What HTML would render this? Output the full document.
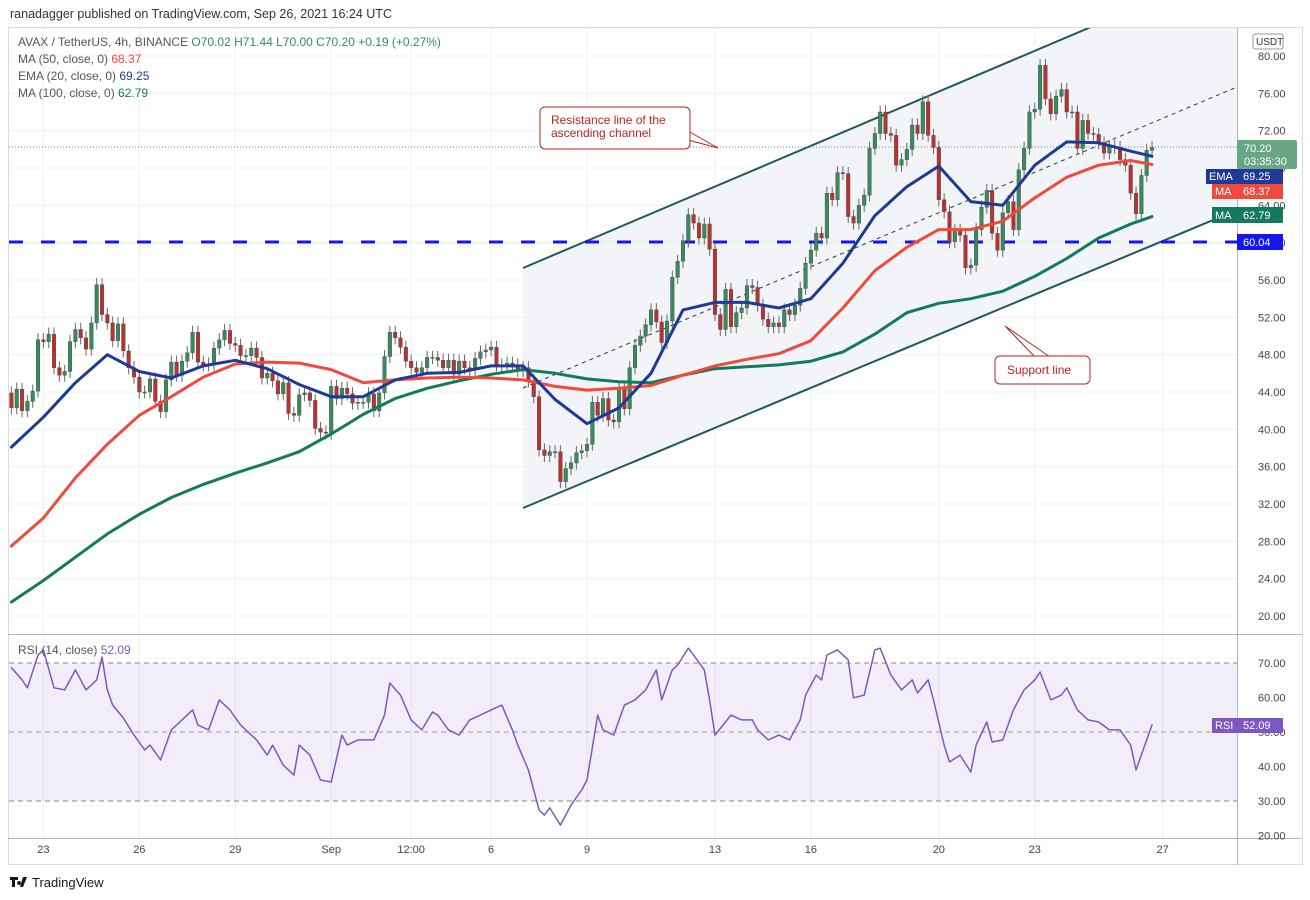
<!DOCTYPE html>
<html><head><meta charset="utf-8"><style>
html,body{margin:0;padding:0;background:#fff;width:1310px;height:900px;overflow:hidden}
svg{display:block;font-family:"Liberation Sans",sans-serif}
</style></head><body>
<svg id="chart" width="1310" height="900" viewBox="0 0 1310 900" xmlns="http://www.w3.org/2000/svg">
<text x="10" y="18" font-size="12.5" fill="#333">ranadagger published on TradingView.com, Sep 26, 2021 16:24 UTC</text>
<rect x="8.5" y="27.5" width="1294" height="837" fill="none" stroke="#d8dbe2"/>
<g id="grid"></g>
<defs>
<clipPath id="mainClip"><rect x="9" y="28" width="1228" height="605"/></clipPath>
<clipPath id="rsiClip"><rect x="9" y="636" width="1228" height="202"/></clipPath>
</defs>
<g clip-path="url(#mainClip)">
<polygon points="523,268 1237,-35 1237,210 523,508" fill="#e9ecf1" fill-opacity="0.6"/>
<line x1="523" y1="268" x2="1237" y2="-35" stroke="#1f5a5a" stroke-width="2"/>
<line x1="523" y1="508" x2="1237" y2="210" stroke="#1f5a5a" stroke-width="2"/>
<line x1="523" y1="388" x2="1237" y2="87" stroke="#333" stroke-width="1" stroke-dasharray="4,4"/>
<line x1="9" y1="242" x2="1237" y2="242" stroke="#1515f0" stroke-width="3" stroke-dasharray="14,18"/>
<line x1="9" y1="147" x2="1237" y2="147" stroke="#6a8a78" stroke-width="1" stroke-dasharray="1,2"/>
<g id="candles"></g>
<g id="mas"></g>
</g>
<line x1="8" y1="634.5" x2="1302" y2="634.5" stroke="#b2b5be"/>
<line x1="1237.5" y1="28" x2="1237.5" y2="865" stroke="#b2b5be"/>
<line x1="8" y1="838.5" x2="1302" y2="838.5" stroke="#b2b5be"/>
<g clip-path="url(#rsiClip)">
<rect x="9" y="663" width="1228" height="138" fill="#7e57c2" fill-opacity="0.1"/>
<line x1="9" y1="663" x2="1237" y2="663" stroke="#888" stroke-dasharray="5,4"/>
<line x1="9" y1="732" x2="1237" y2="732" stroke="#999" stroke-dasharray="5,4"/>
<line x1="9" y1="801" x2="1237" y2="801" stroke="#888" stroke-dasharray="5,4"/>
<g id="rsi"></g>
</g>
<g id="axes"></g>
<g font-size="12" fill="#555">
<text x="18" y="46">AVAX / TetherUS, 4h, BINANCE <tspan fill="#3a8a5e">O70.02  H71.44  L70.00  C70.20  +0.19 (+0.27%)</tspan></text>
<text x="18" y="63">MA (50, close, 0) <tspan fill="#f04a3d">68.37</tspan></text>
<text x="18" y="80">EMA (20, close, 0) <tspan fill="#1e3a96">69.25</tspan></text>
<text x="18" y="97">MA (100, close, 0) <tspan fill="#137a5c">62.79</tspan></text>
<text x="18" y="654">RSI (14, close) <tspan fill="#7e57c2">52.09</tspan></text>
</g>
<g>
<path d="M688,131 L718,148 L688,140" fill="#fff" stroke="#b22" stroke-width="1"/>
<rect x="540" y="107" width="150" height="42" rx="5" fill="#fff" stroke="#b22"/>
<text x="551" y="124" font-size="12" fill="#b22">Resistance line of the</text>
<text x="551" y="137" font-size="12" fill="#b22">ascending channel</text>
</g>
<g>
<path d="M1035,357 L1005,326 L1050,357" fill="#fff" stroke="#b22"/>
<rect x="995" y="356" width="95" height="28" rx="5" fill="#fff" stroke="#b22"/>
<text x="1007" y="374" font-size="12" fill="#b22">Support line</text>
</g>
<g font-size="11">
<rect x="1253" y="34" width="30" height="15" rx="2" fill="#fff" stroke="#999"/>
<text x="1256" y="45" fill="#333" font-size="10">USDT</text>
<rect x="1237" y="140" width="60" height="29" rx="2" fill="#6aa584"/>
<text x="1244" y="152" fill="#fff">70.20</text><text x="1244" y="165" fill="#fff">03:35:30</text>
<rect x="1206" y="169" width="31" height="15" fill="#1e3a96"/><text x="1209" y="180" fill="#fff">EMA</text>
<rect x="1237" y="169" width="46" height="15" fill="#1e3a96"/><text x="1243" y="180" fill="#fff">69.25</text>
<rect x="1212" y="184" width="25" height="15" fill="#f04a3d"/><text x="1215" y="195" fill="#fff">MA</text>
<rect x="1237" y="184" width="46" height="15" fill="#f04a3d"/><text x="1243" y="195" fill="#fff">68.37</text>
<rect x="1212" y="207" width="25" height="16" fill="#137a5c"/><text x="1215" y="219" fill="#fff">MA</text>
<rect x="1237" y="207" width="46" height="16" fill="#137a5c"/><text x="1243" y="219" fill="#fff">62.79</text>
<rect x="1237" y="234" width="46" height="16" fill="#1515f0"/><text x="1243" y="246" fill="#fff">60.04</text>
<rect x="1212" y="718" width="25" height="15" fill="#7e57c2"/><text x="1215" y="729" fill="#fff">RSI</text>
<rect x="1237" y="718" width="46" height="15" fill="#7e57c2"/><text x="1243" y="729" fill="#fff">52.09</text>
</g>
<g>
<path d="M10,877 h8 v3 h-3 v7 h-3 v-7 h-2 z M19,881 a2,2 0 1,0 0.1,0 z M23,877 h4 l-4,10 h-3 z" fill="#131722"/>
<text x="32" y="887" font-size="13" fill="#131722">TradingView</text>
</g>
</svg>
<script>
const closes = [42.3,44.3,42,43,44.1,49.6,49.4,50.2,46.6,45.8,46.2,49.4,50.7,49.8,48.6,51.4,55.5,52.3,51.4,49.5,51.3,48.4,46.6,45.6,44,44,45.4,43,41.9,45.3,47.2,45.8,47.3,48.2,50.4,47.2,46.9,47,48.7,49.6,50.6,49.2,49,47.9,47.9,48.7,47.7,45.5,46,45.2,43.8,45,41.7,41.5,43.7,43.9,43.1,40.1,39.7,39.6,44.6,43.3,44.4,43.8,42.8,42.9,42.9,43.8,42,43.9,47.8,50.4,49.8,48.8,47.3,46.6,46.1,46.6,47.7,47.7,47.4,46.6,47.4,45.9,47.3,46.6,46.4,47.6,48.3,48.5,48.8,46.9,46.9,47.1,46.9,46.3,
46.6,45.2,43.5,37.8,37.2,37.6,37.6,34.4,35.8,36.4,37.5,37.7,38.4,42.9,41.5,43.3,41,40.8,44.3,42.2,46.6,49,50,51.2,52.8,51.5,49.3,51.6,56.3,58,60.2,63,62.1,60.5,62,59.3,52.3,50.7,55,51,52.5,53,55.4,55.2,53.3,51.8,51,51.4,51,52.8,52.3,53.3,55.1,57.8,59.2,61,
60.5,65.3,64.6,67.5,67.4,62.8,62.1,64,65.1,70.1,71.7,74,71.7,71.5,68.3,68.9,70,72.6,71.7,75.1,71.5,70.2,64.6,63.3,60.1,61.3,60.8,57.3,57.6,61.4,63.8,65.6,61,59.2,63.2,64.4,61.4,67.8,70.1,74,74.3,79,75.4,73.8,75.7,76.4,74,74,70.1,73.1,71.7,71.6,70.7,69.6,70.3,70.2,68.9,68.3,65.3,63.1,67.2,69.9,70.2];
const firstOpen = 43.9;
const maIdx = [0,6,12,18,24,30,36,42,48,54,60,66,72,78,84,90,96,102,108,114,120,126,132,138,144,150,156,162,168,174,180,186,192,198,204,210,214];
const ema20 = [38.1,41.3,45,48,46.2,45.5,46.8,47.4,46.5,44.8,43.5,43.5,45.3,46,46.1,46.8,46.8,43.2,40.6,42.3,46,52.8,53.6,53.6,53,54,57.8,62.9,66,68.2,64.4,64,68.3,70.8,70.7,69.8,69.25];
const ma50 = [27.5,30.5,34.8,38.4,41.5,43.5,45.6,47,47.2,47.1,46.4,45,45.3,45.5,45.6,45.5,45.3,44.6,44.2,44.4,44.7,45.8,46.8,47.5,48.1,49.5,53,57,59.5,61.4,61.4,62.3,64.8,67,68.3,68.8,68.37];
const ma100 = [21.5,23.8,26.3,28.8,30.9,32.7,34.1,35.3,36.4,37.6,39.5,41.6,43.3,44.4,45.2,45.9,46.4,46,45.4,45.1,45,45.8,46.5,46.7,46.9,47.3,48.3,50.2,52.5,53.5,54,54.8,56.4,58.3,60.5,62,62.79];
const rsiIdx = [0,2,3,5,6,8,10,12,14,16,17,18,19,21,23,25,26,28,30,32,34,35,37,39,41,43,46,48,49,51,53,54,56,58,60,62,63,65,68,70,71,73,75,77,79,80,82,84,86,88,90,92,94,95,97,99,100,101,103,105,107,108,110,111,113,115,117,119,121,122,124,125,127,128,130,131,132,135,137,139,140,142,144,146,148,149,151,152,153,155,157,158,160,162,163,165,167,169,170,172,173,175,176,178,180,181,183,184,186,188,190,192,193,195,197,198,200,202,204,206,208,210,211,213,214];
const rsiVal = [68.6,65.1,62.8,72.3,73.8,62.8,62.2,68,62.2,65.1,71.7,62.2,57.8,54.1,49.1,44.8,46.2,41.9,50.6,53.5,56.4,52,50.6,59.3,56.4,52,47.7,43.3,46.2,40.4,37.5,46.2,43.3,36.1,35.5,49.1,46.2,47.7,47.7,54.9,64.2,60.7,53.5,50.6,55.8,54.9,50.6,49.1,53.5,54.9,56.4,57.8,50.6,46.2,39,27.4,25.9,28,23,28.8,33.2,36.1,54.9,50.6,49.1,57.8,59.3,62.2,68,59.3,68,69.4,74.3,72.3,68,59.3,49.1,54.9,53.5,53.5,50.6,47.7,49.1,47.7,53.5,60.7,66.5,65.1,72.3,73.8,70.9,59.9,60.7,73.8,74.3,66.5,62.2,65.1,61.3,65.1,59.3,46.2,41.3,43.3,38.4,46.2,52.9,47.1,47.7,56.4,62.2,65.1,67.4,59.3,60.7,62.8,56.4,53.5,52.9,50.6,50.6,46.2,39,47.7,52.09];
const priceTicks = [80,76,72,68,64,60,56,52,48,44,40,36,32,28,24,20];
const rsiTicks = [70,60,50,40,30,20];
const timeLabels = ["23","26","29","Sep","12:00","6","9","13","16","20","23","27"];
const timeLabelIdx = [6,24,42,60,75,90,108,132,150,174,192,216];

const NS = "http://www.w3.org/2000/svg";
const X0 = 11.4, DX = 5.33;
function xs(i){ return X0 + i*DX; }
function py(p){ return 56 + (80-p)*9.3333; }
function ry(v){ return 663 + (70-v)*3.45; }
function mk(tag, attrs, parent){ const e=document.createElementNS(NS,tag); for(const k in attrs) e.setAttribute(k,attrs[k]); parent.appendChild(e); return e; }

const grid = document.getElementById('grid');
priceTicks.forEach(p=>{
  const l = mk('line',{x1:9,x2:1237,y1:py(p),y2:py(p),stroke:'#eef0f4'},grid);
  
  
});
timeLabelIdx.forEach(i=>{
  const l = mk('line',{x1:xs(i),x2:xs(i),y1:28,y2:838,stroke:'#eef0f4'},grid);
  
  
});

const cg = document.getElementById('candles');
let prev = firstOpen;
for(let i=0;i<closes.length;i++){
  const o=prev, c=closes[i]; prev=c;
  const up = c>=o;
  const col = up ? '#3a8a5e' : '#b83232';
  const hi = Math.max(o,c)+0.7, lo = Math.min(o,c)-0.7;
  const x = xs(i);
  const w = mk('line',{x1:x,x2:x,y1:py(hi),y2:py(lo),stroke:'#666','stroke-width':1},cg);
  
  
  const top = py(Math.max(o,c)), h = Math.max(1, py(Math.min(o,c))-top);
  const b = mk('rect',{x:x-1.8,y:top,width:3.6,height:h,fill:col,stroke:'#444','stroke-width':0.4},cg);
  
  
}

const mg = document.getElementById('mas');
function line(idx, vals, yf, color, width, parent, name){
  const n = Math.min(idx.length, vals.length);
  let d='';
  for(let k=0;k<n;k++) d += (k?'L':'M') + xs(idx[k]).toFixed(1) + ',' + yf(vals[k]).toFixed(1);
  const p = mk('path',{d:d,fill:'none',stroke:color,'stroke-width':width,'stroke-linejoin':'round','stroke-linecap':'round'},parent);
  
  
}
line(maIdx, ma100, py, '#137a5c', 3, mg, 'ma100-line');
line(maIdx, ma50, py, '#f04a3d', 3, mg, 'ma50-line');
line(maIdx, ema20, py, '#1e3a96', 3, mg, 'ema20-line');
line(rsiIdx, rsiVal, ry, '#7e57c2', 1.5, document.getElementById('rsi'), 'rsi-line');

const ax = document.getElementById('axes');
priceTicks.forEach(p=>{
  const t = mk('text',{x:1258,y:py(p)+4,'font-size':11,fill:'#444'},ax);
  t.textContent = p.toFixed(2);
  
  
});
rsiTicks.forEach(v=>{
  const t = mk('text',{x:1258,y:ry(v)+4,'font-size':11,fill:'#444'},ax);
  t.textContent = v.toFixed(2);
  
  
});
timeLabels.forEach((s,k)=>{
  const t = mk('text',{x:xs(timeLabelIdx[k]),y:853,'font-size':11,fill:'#444','text-anchor':'middle'},ax);
  t.textContent = s;
  
  
});
</script>
</body></html>
